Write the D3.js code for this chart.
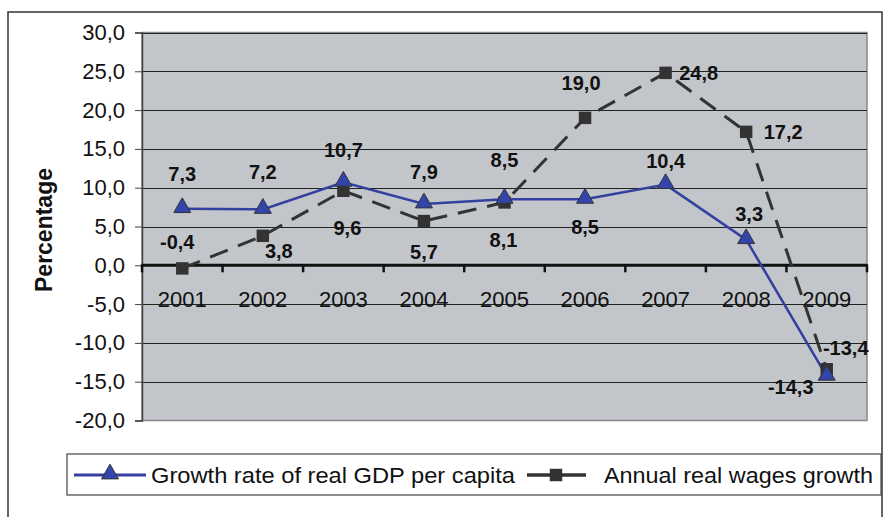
<!DOCTYPE html>
<html><head><meta charset="utf-8">
<script src="https://cdn.jsdelivr.net/npm/d3@7"></script>
<style>body{margin:0;background:#fff}svg{display:block}text{font-family:Arial,"Liberation Sans",sans-serif}</style>
</head><body><svg id="c" width="883" height="517"></svg>
<script>
const years = ["2001","2002","2003","2004","2005","2006","2007","2008","2009"];
const gdpGrowth = [7.3,7.2,10.7,7.9,8.5,8.5,10.4,3.3,-14.3];
const wageGrowth = [-0.4,3.8,9.6,5.7,8.1,19.0,24.8,17.2,-13.4];
const yTicks = [30,25,20,15,10,5,0,-5,-10,-15,-20];
const seriesNames = ["Growth rate of real GDP per capita","Annual real wages growth"];
// label offsets (layout, px)
const gdpLabelOff = [[0,-35],[0,-37],[0,-32],[0,-32],[0,-39],[0,28],[0,-24],[3,-26],[-36,11]];
const wageLabelOff = [[-5,-26],[16,15],[4,37],[0,31],[-1,38],[-4,-35],[33,0],[37,0],[19,-21]];

const svg = d3.select("#c");
const L=142,R=867,T=32.5,B=420.5;
const fmt = v => d3.format(".1f")(v).replace(".",",").replace("−","-");
const x = d3.scaleBand().domain(years).range([L,R]);
const cx = d => x(d)+x.bandwidth()/2;
const y = d3.scaleLinear().domain([-20,30]).range([B,T]);

// outer border
svg.append("rect").attr("x",8).attr("y",12).attr("width",874).attr("height",520)
  .attr("fill","none").attr("stroke","#333").attr("stroke-width",1.5);
// plot bg
svg.append("rect").attr("x",L).attr("y",T).attr("width",R-L).attr("height",B-T)
  .attr("fill","#c2c5c9").attr("stroke","#888").attr("stroke-width",1.5);
// gridlines
svg.append("g").selectAll("line").data(yTicks.filter(t=>t!==0&&t!==-20)).join("line")
  .attr("x1",L).attr("x2",R).attr("y1",d=>Math.round(y(d))+0.5).attr("y2",d=>Math.round(y(d))+0.5)
  .attr("stroke","#222").attr("stroke-width",1);
// y axis
const ya = svg.append("g").attr("transform",`translate(${L},0)`)
  .call(d3.axisLeft(y).tickValues(yTicks).tickSize(7).tickPadding(10).tickFormat(fmt));
ya.select(".domain").attr("stroke","#444").attr("stroke-width",1.5);
ya.selectAll(".tick line").attr("stroke","#444");
ya.selectAll("text").attr("font-size",22).attr("fill","#111").attr("font-family","Arial,'Liberation Sans',sans-serif");
// zero axis
const y0 = y(0);
svg.append("line").attr("x1",L).attr("x2",R).attr("y1",y0).attr("y2",y0).attr("stroke","#111").attr("stroke-width",3);
const bounds = years.map(d=>x(d)).concat([R]);
svg.append("g").selectAll("line").data(bounds).join("line")
  .attr("x1",d=>d).attr("x2",d=>d).attr("y1",y0-1).attr("y2",y0+7).attr("stroke","#111").attr("stroke-width",2.5);
svg.append("g").selectAll("text").data(years).join("text")
  .attr("x",d=>cx(d)).attr("y",y0+42).attr("text-anchor","middle").attr("font-size",22).attr("fill","#111").text(d=>d);
// y title
svg.append("text").attr("transform","translate(44,230) rotate(-90)").attr("text-anchor","middle")
  .attr("dominant-baseline","central").attr("font-size",23).attr("font-weight","bold").attr("fill","#111").text("Percentage");

// lines
const lineGen = d3.line().x((d,i)=>cx(years[i])).y(d=>y(d));
svg.append("path").datum(wageGrowth).attr("d",lineGen).attr("fill","none")
  .attr("stroke","#333").attr("stroke-width",3).attr("stroke-dasharray","19,11");
svg.append("path").datum(gdpGrowth).attr("d",lineGen).attr("fill","none")
  .attr("stroke","#3340a0").attr("stroke-width",2.5);
// markers
const sq = d3.symbol().type(d3.symbolSquare).size(155);
const tri = d3.symbol().type(d3.symbolTriangle).size(125);
svg.append("g").selectAll("path").data(wageGrowth).join("path")
  .attr("d",sq).attr("transform",(d,i)=>`translate(${cx(years[i])},${y(d)})`).attr("fill","#333");
svg.append("g").selectAll("path").data(gdpGrowth).join("path")
  .attr("d",tri).attr("transform",(d,i)=>`translate(${cx(years[i])},${y(d)-1})`).attr("fill","#3344aa").attr("stroke","#333").attr("stroke-width",1);
// labels
function labels(data,off){
  svg.append("g").selectAll("text").data(data).join("text")
    .attr("x",(d,i)=>cx(years[i])+off[i][0]).attr("y",(d,i)=>y(d)+off[i][1])
    .attr("text-anchor","middle").attr("dominant-baseline","central")
    .attr("font-size",20).attr("font-weight","bold").attr("fill","#111").text(d=>fmt(d));
}
labels(gdpGrowth,gdpLabelOff);
labels(wageGrowth,wageLabelOff);

// legend
const lg = svg.append("g");
lg.append("rect").attr("x",67).attr("y",454).attr("width",814).attr("height",41).attr("fill","#fff").attr("stroke","#444").attr("stroke-width",1.2);
const ly = 475;
lg.append("line").attr("x1",74).attr("x2",146).attr("y1",ly).attr("y2",ly).attr("stroke","#3340a0").attr("stroke-width",3);
lg.append("path").attr("d",tri).attr("transform",`translate(110,${ly-1})`).attr("fill","#3344aa").attr("stroke","#333");
lg.append("text").attr("x",151).attr("y",ly).attr("dominant-baseline","central").attr("font-size",22).attr("fill","#111")
  .attr("textLength",364).attr("lengthAdjust","spacingAndGlyphs").text(seriesNames[0]);
lg.append("line").attr("x1",527).attr("x2",586).attr("y1",ly).attr("y2",ly).attr("stroke","#333").attr("stroke-width",3.5);
lg.append("path").attr("d",sq).attr("transform",`translate(556,${ly})`).attr("fill","#333");
lg.append("text").attr("x",604).attr("y",ly).attr("dominant-baseline","central").attr("font-size",22).attr("fill","#111")
  .attr("textLength",269).attr("lengthAdjust","spacingAndGlyphs").text(seriesNames[1]);
</script></body></html>
